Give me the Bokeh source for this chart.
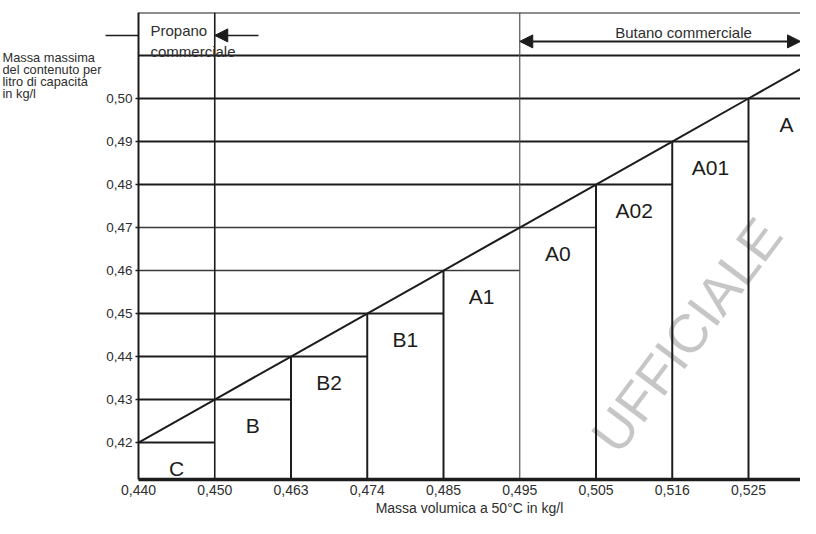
from bokeh.plotting import figure
from bokeh.layouts import row
from bokeh.models import (Range1d, FixedTicker, Label, Arrow, NormalHead,
                          ColumnDataSource)
from bokeh.embed import file_html
from bokeh.resources import INLINE
from bokeh.core.properties import value

# ---- data (schematic diagram, classes of LPG mixtures) ----
densities = [0.440, 0.450, 0.463, 0.474, 0.485, 0.495, 0.505, 0.516, 0.525]
max_mass = [0.42, 0.43, 0.44, 0.45, 0.46, 0.47, 0.48, 0.49, 0.50]
classes = ["C", "B", "B2", "B1", "A1", "A0", "A02", "A01", "A"]
x_tick_labels = ["0,440", "0,450", "0,463", "0,474", "0,485",
                 "0,495", "0,505", "0,516", "0,525"]
y_tick_labels = ["0,42", "0,43", "0,44", "0,45", "0,46",
                 "0,47", "0,48", "0,49", "0,50"]
header_levels = [0.51, 0.52]          # upper limit line and top border
propane_limit = 0.450                  # end of "Propano commerciale"
butane_limit = 0.495                   # start of "Butano commerciale"
y_title_lines = ["Massa massima", "del contenuto per",
                 "litro di capacità", "in kg/l"]
x_title = "Massa volumica a 50°C in kg/l"

FONT = "Liberation Sans"
INK = "#1c1c1c"
TXT = "#2e2e2e"

# the diagram is not to scale: the density boundaries are equally spaced
xpos = list(range(len(densities)))
LEFT_W = 103          # width of the side panel holding the y title
FRAME_L = 138         # page x of the main frame's left edge
FRAME_T = 12
STEP = 76.25          # pixels per density class
X_END = (800 - FRAME_L) / STEP
Y_START, Y_END = 0.4114, 0.52
PXY = 469 / (Y_END - Y_START)   # approx. pixels per unit of mass


def dx(px):
    return (px - FRAME_L) / STEP


def dy(py):
    return Y_END - (py - FRAME_T) / PXY


# ---- main diagram ----
p = figure(width=800 - LEFT_W, height=518, output_backend="svg",
           toolbar_location=None,
           x_range=Range1d(0, X_END), y_range=Range1d(Y_START, Y_END),
           min_border_left=FRAME_L - LEFT_W, min_border_right=0,
           min_border_top=FRAME_T, min_border_bottom=0)
p.outline_line_color = None
p.xgrid.visible = False
p.ygrid.visible = False

xa = p.xaxis[0]
xa.ticker = FixedTicker(ticks=xpos)
xa.major_label_overrides = {i: lab for i, lab in zip(xpos, x_tick_labels)}
xa.axis_line_width = 3.5
xa.axis_line_color = INK
xa.major_tick_in = 0
xa.major_tick_out = 0
xa.minor_tick_in = 0
xa.minor_tick_out = 0
xa.major_label_standoff = 5
xa.major_label_text_font = FONT
xa.major_label_text_font_size = "14px"
xa.major_label_text_color = TXT
xa.axis_label = x_title
xa.axis_label_standoff = 2
xa.axis_label_text_font = FONT
xa.axis_label_text_font_size = "14px"
xa.axis_label_text_font_style = "normal"
xa.axis_label_text_color = TXT

# the propane arrow's shaft, left of the frame, is drawn as a long minor tick
y_prop = dy(35)
ya = p.yaxis[0]
ya.ticker = FixedTicker(ticks=max_mass, minor_ticks=[y_prop])
ya.major_label_overrides = {v: lab for v, lab in zip(max_mass, y_tick_labels)}
ya.axis_line_width = 2
ya.axis_line_color = INK
ya.major_tick_in = 0
ya.major_tick_out = 3
ya.major_tick_line_width = 1.5
ya.major_tick_line_color = INK
ya.minor_tick_in = 0
ya.minor_tick_out = 33
ya.minor_tick_line_width = 1.6
ya.minor_tick_line_color = INK
ya.major_label_standoff = -27
ya.major_label_text_font = FONT
ya.major_label_text_font_size = "13.5px"
ya.major_label_text_color = TXT

# ---- side panel with the y title (shares the vertical scale) ----
left = figure(width=LEFT_W, height=518, output_backend="svg",
              toolbar_location=None, x_range=Range1d(0, LEFT_W),
              y_range=p.y_range, x_axis_location=None,
              y_axis_location=None, min_border=0)
left.outline_line_color = None
left.grid.visible = False
for i, t in enumerate(y_title_lines):
    left.add_layout(Label(x=2, y=dy(57 + i * 12), text=t, text_font=FONT,
                          text_font_size="12.8px", text_color=TXT,
                          text_align="left", text_baseline="middle"))

# ---- watermark (below the lines) ----
p.add_layout(Label(x=dx(686), y=dy(336), text="UFFICIALE", angle=53,
                   angle_units="deg", text_align="center",
                   text_baseline="middle", text_font=FONT,
                   text_font_size="54px", text_color="#c6c6c6",
                   level="underlay"))

# ---- horizontal step lines: level k runs from the axis to the next boundary ----
h_x0, h_x1, h_y, h_w, h_c = [], [], [], [], []
for k, m in enumerate(max_mass):
    h_x0.append(xpos[0])
    h_x1.append(xpos[k + 1] if k + 1 < len(xpos) else X_END)
    h_y.append(m)
    thin = m in (0.46, 0.47)
    h_w.append(1.3 if thin else 2.0)
    h_c.append("#3a3a3a" if thin else INK)
for lv in header_levels:
    h_x0.append(xpos[0]); h_x1.append(X_END); h_y.append(lv)
    h_w.append(2.0); h_c.append(INK)
p.segment(x0="x0", y0="y", x1="x1", y1="y", line_width="w", line_color="c",
          source=ColumnDataSource(dict(x0=h_x0, x1=h_x1, y=h_y, w=h_w, c=h_c)))

# ---- vertical boundary lines ----
v_x, v_y1, v_w, v_c = [], [], [], []
for k in range(1, len(densities)):
    d = densities[k]
    v_x.append(xpos[k])
    if d == propane_limit:
        v_y1.append(Y_END); v_w.append(1.6); v_c.append(INK)
    elif d == butane_limit:
        v_y1.append(Y_END); v_w.append(1.2); v_c.append("#555555")
    else:
        v_y1.append(max_mass[k]); v_w.append(2.0); v_c.append(INK)
p.segment(x0="x", y0=Y_START, x1="x", y1="y1", line_width="w", line_color="c",
          source=ColumnDataSource(dict(x=v_x, y1=v_y1, w=v_w, c=v_c)))

# ---- diagonal through the class corners, up to the upper limit ----
p.line(xpos + [len(xpos)], max_mass + [header_levels[0]],
       line_width=2, line_color=INK)

# ---- class labels ----
p.text(x=[x + 0.5 for x in xpos], y=[m - 0.006 for m in max_mass], text=classes,
       text_font=value(FONT), text_font_size="21px", text_color=INK,
       text_align="center", text_baseline="middle")

# ---- header: propane / butane ranges ----
def lbl(px, py, text, align="left", size="15px"):
    p.add_layout(Label(x=dx(px), y=dy(py), text=text, text_font=FONT,
                       text_font_size=size, text_color=TXT,
                       text_align=align, text_baseline="middle"))

lbl(150, 30, "Propano")
lbl(150, 51, "commerciale")
lbl(683, 32, "Butano commerciale", align="center")

head = dict(size=13, fill_color=INK, line_color=INK)
p.add_layout(Arrow(end=NormalHead(**head), x_start=dx(258), y_start=y_prop,
                   x_end=xpos[1], y_end=y_prop, line_width=1.5,
                   line_color=INK))
y_but = dy(41)
p.add_layout(Arrow(start=NormalHead(**head), end=NormalHead(**head),
                   x_start=xpos[5], y_start=y_but, x_end=X_END, y_end=y_but,
                   line_width=2, line_color=INK))

open("out.html", "w").write(file_html(row(left, p, spacing=0), INLINE))
